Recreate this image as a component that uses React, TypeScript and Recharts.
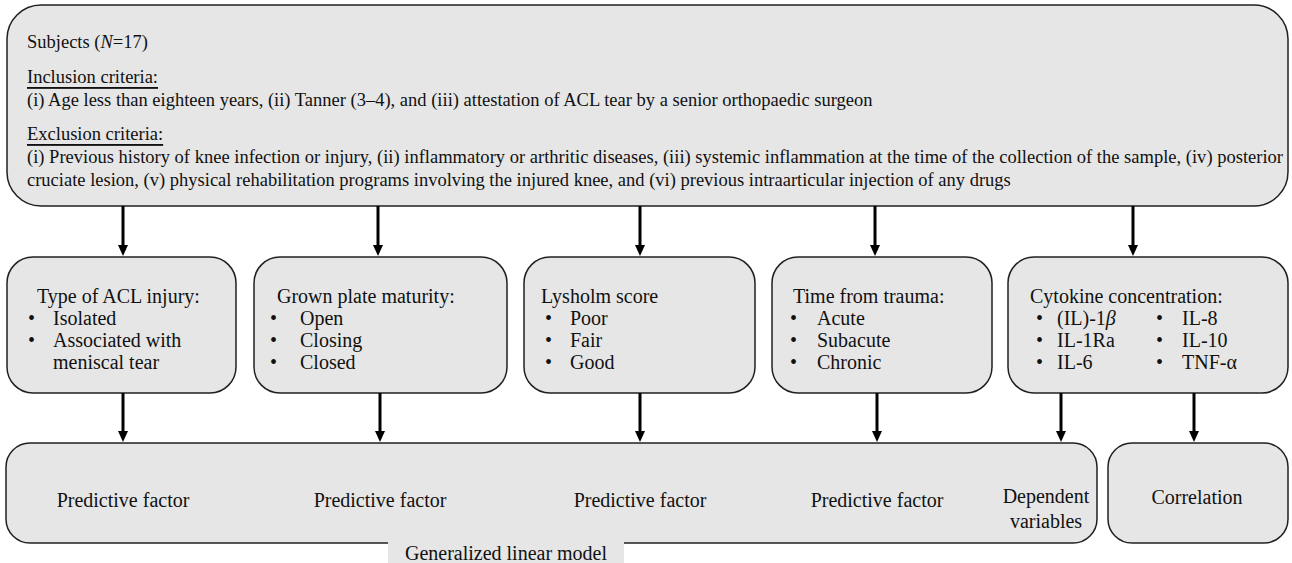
import React from 'react';
import { ComposedChart, XAxis, YAxis, ReferenceArea, ReferenceLine, Scatter } from 'recharts';

const W = 1292;
const H = 563;
const FILL = '#e6e6e6';
const STROKE = '#231f20';
const FONT = '"Liberation Serif", "Times New Roman", serif';

type Seg = { t: string; i?: boolean; u?: boolean };

// ---- Boxes (flowchart nodes) ----
const boxNames = ['subjects', 'acl', 'plate', 'lysholm', 'trauma', 'cytokine', 'glm', 'correlation'];
const boxLeft = [7, 7, 254, 524, 772, 1008, 6, 1108];
const boxRight = [1288, 236, 507, 755, 992, 1288, 1097, 1288];
const boxTop = [5, 257, 257, 257, 257, 257, 443, 443];
const boxBottom = [206, 393, 393, 393, 393, 393, 543, 543];
const boxRadius = [34, 26, 26, 26, 26, 26, 24, 24];

// ---- Top box text ----
const topText: Seg[][] = [
  [{ t: 'Subjects (' }, { t: 'N', i: true }, { t: '=17)' }],
  [{ t: 'Inclusion criteria:', u: true }],
  [{ t: '(i) Age less than eighteen years, (ii) Tanner (3–4), and (iii) attestation of ACL tear by a senior orthopaedic surgeon' }],
  [{ t: 'Exclusion criteria:', u: true }],
  [{ t: '(i) Previous history of knee infection or injury, (ii) inflammatory or arthritic diseases, (iii) systemic inflammation at the time of the collection of the sample, (iv) posterior' }],
  [{ t: 'cruciate lesion, (v) physical rehabilitation programs involving the injured knee, and (vi) previous intraarticular injection of any drugs' }],
];
const topTextY = [42, 77, 100, 134, 157, 180];
const topTextX = 27;
const topTextJustify = [0, 0, 0, 0, 1256, 0];

// ---- Middle boxes text ----
const midTitles = ['Type of ACL injury:', 'Grown plate maturity:', 'Lysholm score', 'Time from trauma:', 'Cytokine concentration:'];
const midTitleX = [37, 277, 541, 793, 1030];
const midTitleY = 296;
const bulletLists: Seg[][][] = [
  [[{ t: 'Isolated' }], [{ t: 'Associated with' }]],
  [[{ t: 'Open' }], [{ t: 'Closing' }], [{ t: 'Closed' }]],
  [[{ t: 'Poor' }], [{ t: 'Fair' }], [{ t: 'Good' }]],
  [[{ t: 'Acute' }], [{ t: 'Subacute' }], [{ t: 'Chronic' }]],
  [[{ t: '(IL)-1' }, { t: 'β', i: true }], [{ t: 'IL-1Ra' }], [{ t: 'IL-6' }]],
  [[{ t: 'IL-8' }], [{ t: 'IL-10' }], [{ t: 'TNF-α' }]],
];
const bulletX = [28, 270, 545, 790, 1036, 1156];
const bulletTextX = [53, 300, 570, 817, 1057, 1182];
const bulletRowY = [318, 340, 362];
const continuationText = 'meniscal tear';
const continuationX = 53;
const continuationY = 362;

// ---- Arrows ----
const upperArrowX = [123, 378, 640, 875, 1133];
const upperArrowFrom = 206;
const upperArrowTo = 256;
const lowerArrowX = [123, 380, 640, 877, 1061, 1194];
const lowerArrowFrom = 393;
const lowerArrowTo = 442;

// ---- Bottom labels ----
const bottomLabels = ['Predictive factor', 'Predictive factor', 'Predictive factor', 'Predictive factor', 'Dependent', 'variables', 'Correlation'];
const bottomLabelX = [123, 380, 640, 877, 1046, 1046, 1197];
const bottomLabelY = [500, 500, 500, 500, 496, 521, 497];

const glmLabel = 'Generalized linear model';
const glmLabelBox = { x1: 388, x2: 624, y1: 542, y2: 563 };
const glmLabelY = 553;

const renderSegs = (segs: Seg[]) =>
  segs.map((s, k) => (
    <tspan key={k} fontStyle={s.i ? 'italic' : 'normal'} textDecoration={s.u ? 'underline' : undefined} style={s.u ? { textDecoration: 'underline' } : undefined}>
      {s.t}
    </tspan>
  ));

const TopTextShape = (p: any) => {
  const k = p.payload.k;
  const jl = topTextJustify[k];
  return (
    <text x={p.cx} y={p.cy} dominantBaseline="central" fontFamily={FONT} fontSize={18.5} fill="#111"
      {...(jl ? { textLength: jl, lengthAdjust: 'spacing' } : {})}>
      {renderSegs(topText[k])}
    </text>
  );
};

const MidTitleShape = (p: any) => (
  <text x={p.cx} y={p.cy} dominantBaseline="central" fontFamily={FONT} fontSize={20} fill="#111">
    {midTitles[p.payload.k]}
  </text>
);

const BulletShape = (p: any) => {
  const { col, row } = p.payload;
  return (
    <g>
      <text x={p.cx} y={p.cy} dominantBaseline="central" fontFamily={FONT} fontSize={20} fill="#111">•</text>
      <text x={p.cx + (bulletTextX[col] - bulletX[col])} y={p.cy} dominantBaseline="central" fontFamily={FONT} fontSize={20} fill="#111">
        {renderSegs(bulletLists[col][row])}
      </text>
    </g>
  );
};

const PlainTextShape = (p: any) => (
  <text x={p.cx} y={p.cy} dominantBaseline="central" textAnchor={p.payload.anchor} fontFamily={FONT} fontSize={p.payload.size} fill="#111">
    {p.payload.label}
  </text>
);

const ArrowHeadShape = (p: any) => (
  <polygon points={`${p.cx - 5},${p.cy - 11} ${p.cx + 5},${p.cy - 11} ${p.cx},${p.cy}`} fill="#000" />
);

const roundedShape = (r: number) => (p: any) => (
  <rect x={p.x} y={p.y} width={p.width} height={p.height} rx={r} ry={r} fill={FILL} stroke={STROKE} strokeWidth={1.5} />
);

export default function App() {
  const topData = topText.map((_, k) => ({ x: topTextX, y: topTextY[k], k }));
  const titleData = midTitles.map((_, k) => ({ x: midTitleX[k], y: midTitleY, k }));
  const bulletData: any[] = [];
  bulletLists.forEach((list, col) => list.forEach((_, row) => bulletData.push({ x: bulletX[col], y: bulletRowY[row], col, row })));
  const plainData = [
    { x: continuationX, y: continuationY, label: continuationText, anchor: 'start', size: 20 },
    ...bottomLabels.map((label, k) => ({ x: bottomLabelX[k], y: bottomLabelY[k], label, anchor: 'middle', size: 20 })),
    { x: (glmLabelBox.x1 + glmLabelBox.x2) / 2, y: glmLabelY, label: glmLabel, anchor: 'middle', size: 20 },
  ];
  const headData = [
    ...upperArrowX.map((x) => ({ x, y: upperArrowTo })),
    ...lowerArrowX.map((x) => ({ x, y: lowerArrowTo })),
  ];

  return (
    <div style={{ position: 'absolute', left: 0, top: 0, background: '#fff' }}>
      <ComposedChart width={W} height={H} margin={{ top: 0, right: 0, bottom: 0, left: 0 }}>
        <XAxis type="number" dataKey="x" domain={[0, W]} allowDataOverflow hide />
        <YAxis type="number" dataKey="y" domain={[0, H]} allowDataOverflow reversed hide />
        {boxNames.map((name, k) => (
          <ReferenceArea key={name} x1={boxLeft[k]} x2={boxRight[k]} y1={boxTop[k]} y2={boxBottom[k]} shape={roundedShape(boxRadius[k])} ifOverflow="visible" />
        ))}
        <ReferenceArea x1={glmLabelBox.x1} x2={glmLabelBox.x2} y1={glmLabelBox.y1} y2={glmLabelBox.y2} fill={FILL} fillOpacity={1} stroke="none" ifOverflow="visible" />
        {upperArrowX.map((x, k) => (
          <ReferenceLine key={'u' + k} segment={[{ x, y: upperArrowFrom }, { x, y: upperArrowTo - 8 }]} stroke="#000" strokeWidth={3} ifOverflow="visible" />
        ))}
        {lowerArrowX.map((x, k) => (
          <ReferenceLine key={'l' + k} segment={[{ x, y: lowerArrowFrom }, { x, y: lowerArrowTo - 8 }]} stroke="#000" strokeWidth={3} ifOverflow="visible" />
        ))}
        <Scatter data={headData} shape={ArrowHeadShape} isAnimationActive={false} />
        <Scatter data={topData} shape={TopTextShape} isAnimationActive={false} />
        <Scatter data={titleData} shape={MidTitleShape} isAnimationActive={false} />
        <Scatter data={bulletData} shape={BulletShape} isAnimationActive={false} />
        <Scatter data={plainData} shape={PlainTextShape} isAnimationActive={false} />
      </ComposedChart>
    </div>
  );
}
